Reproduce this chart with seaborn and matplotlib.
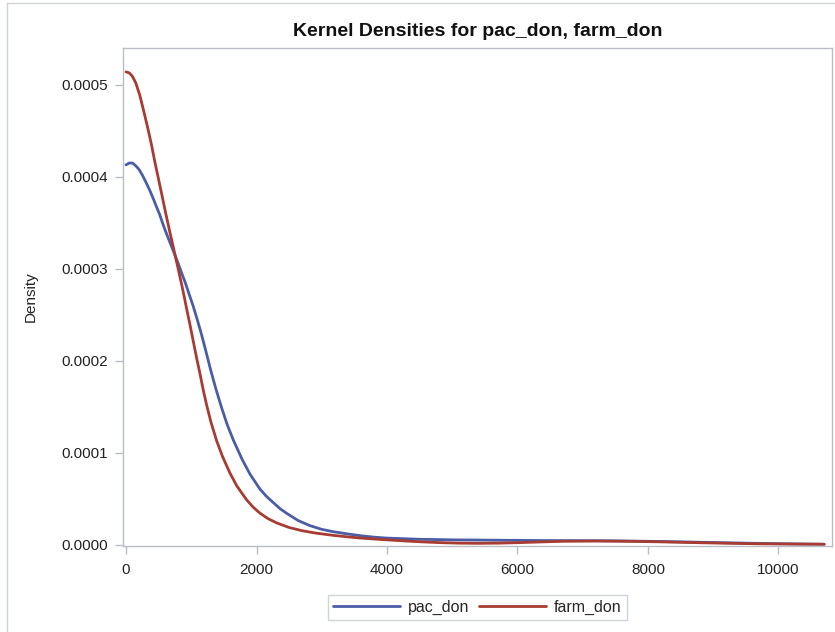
import numpy as np
import pandas as pd
import matplotlib
matplotlib.use("Agg")
import matplotlib.pyplot as plt
from matplotlib.lines import Line2D
from matplotlib.ticker import FormatStrFormatter
import seaborn as sns

# ---- data (density in units of 1e-4) ----
pac_x = [0, 50, 100, 150, 200, 250, 300, 360, 414, 470, 516, 560, 600, 650, 700, 750,
         800, 850, 904, 970, 1032, 1100, 1160, 1230, 1298, 1380, 1466, 1550, 1645,
         1780, 1900, 2050, 2150, 2258, 2360, 2460, 2640, 2820, 3000, 3170, 3400,
         3600, 3800, 4000, 4500, 5000, 5500, 6000, 6500, 7000, 7500, 8000, 8500,
         9000, 9500, 10000, 10700]
pac_d = [4.13, 4.15, 4.15, 4.12, 4.08, 4.02, 3.95, 3.86, 3.77, 3.67, 3.59, 3.50, 3.42,
         3.33, 3.24, 3.15, 3.06, 2.96, 2.86, 2.72, 2.59, 2.43, 2.28, 2.09, 1.90, 1.69,
         1.49, 1.31, 1.14, 0.93, 0.77, 0.61, 0.53, 0.46, 0.395, 0.345, 0.265, 0.21, 0.17,
         0.145, 0.12, 0.10, 0.085, 0.075, 0.062, 0.056, 0.053, 0.050, 0.048, 0.047,
         0.045, 0.040, 0.034, 0.027, 0.020, 0.014, 0.008]

farm_x = [0, 50, 100, 150, 210, 270, 337, 390, 440, 500, 557, 610, 669, 730, 787, 853,
          900, 940, 990, 1032, 1080, 1134, 1185, 1236, 1300, 1390, 1480, 1594, 1700,
          1849, 1950, 2054, 2180, 2309, 2500, 2700, 2900, 3172, 3400, 3600, 3900,
          4200, 4500, 4800, 5100, 5400, 5700, 6000, 6300, 6700, 7200, 7700, 8200,
          8700, 9200, 9700, 10200, 10700]
farm_d = [5.14, 5.13, 5.09, 5.02, 4.89, 4.72, 4.52, 4.35, 4.17, 3.97, 3.78, 3.60, 3.41,
          3.22, 3.04, 2.83, 2.67, 2.53, 2.36, 2.21, 2.04, 1.86, 1.68, 1.52, 1.34, 1.13,
          0.96, 0.78, 0.64, 0.49, 0.41, 0.345, 0.285, 0.24, 0.19, 0.155, 0.13, 0.105,
          0.088, 0.075, 0.06, 0.047, 0.035, 0.026, 0.020, 0.018, 0.020, 0.025, 0.032,
          0.040, 0.043, 0.040, 0.034, 0.026, 0.019, 0.013, 0.010, 0.008]

series_names = ["pac_don", "farm_don"]
x_ticks = [0, 2000, 4000, 6000, 8000, 10000]
y_ticks = [0.0, 0.0001, 0.0002, 0.0003, 0.0004, 0.0005]
title = "Kernel Densities for pac_don, farm_don"

df = pd.concat([
    pd.DataFrame({"x": pac_x, "Density": np.array(pac_d) * 1e-4, "series": series_names[0]}),
    pd.DataFrame({"x": farm_x, "Density": np.array(farm_d) * 1e-4, "series": series_names[1]}),
], ignore_index=True)

sns.set_theme(style="white")
plt.rcParams["font.family"] = ["Liberation Sans", "DejaVu Sans"]

W, H = 835, 632
fig = plt.figure(figsize=(W / 100, H / 100), dpi=100)
ax = fig.add_axes([123 / W, (H - 546) / H, (832 - 123) / W, (546 - 48) / H])

palette = {"pac_don": "#4A5DA6", "farm_don": "#A83B32"}
sns.lineplot(data=df, x="x", y="Density", hue="series", palette=palette,
             linewidth=2.0, ax=ax, sort=False, legend=False,
             solid_joinstyle="round", solid_capstyle="round")

ax.set_xlim(-46, 10820)
ax.set_ylim(-0.0000011, 0.000540)
ax.set_xticks(x_ticks)
ax.set_yticks(y_ticks)
ax.yaxis.set_major_formatter(FormatStrFormatter("%.4f"))
ax.tick_params(axis="both", which="major", direction="out", length=5.5, width=1,
               color="#b8bec4", labelsize=11, labelcolor="#222222", pad=5,
               bottom=True, left=True)
ax.tick_params(axis="x", pad=7)
for s in ax.spines.values():
    s.set_color("#b8bec4")
    s.set_linewidth(1.0)

ax.set_xlabel("")
ax.set_ylabel("Density", fontsize=11, color="#222222", labelpad=17)
ax.set_title(title, fontsize=14, fontweight="bold", color="#111111", pad=9)

handles = [Line2D([0], [0], color=palette[n], lw=2.0) for n in series_names]
leg = ax.legend(handles, series_names, loc="upper center", bbox_to_anchor=(0.5, -0.082),
                ncol=2, frameon=True, fancybox=False, fontsize=11.5, handlelength=4.2,
                handletextpad=0.5, columnspacing=0.6, borderpad=0.3,
                edgecolor="#c4c8cc")
leg.get_frame().set_linewidth(1.0)

# figure border lines (top and left)
fig.add_artist(Line2D([7 / W, 1.0], [1 - 3 / H, 1 - 3 / H], color="#cfd3d6", lw=1.0))
fig.add_artist(Line2D([7 / W, 7 / W], [0.0, 1 - 3 / H], color="#cfd3d6", lw=1.0))

fig.savefig("out.png", dpi=100, facecolor="white")
